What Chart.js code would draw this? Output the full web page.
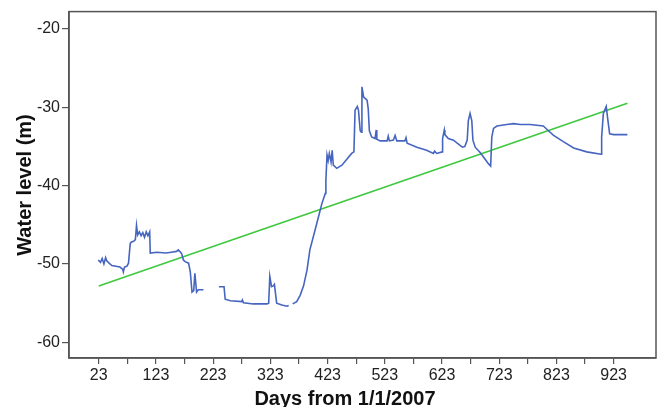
<!DOCTYPE html>
<html>
<head>
<meta charset="utf-8">
<script src="https://cdn.jsdelivr.net/npm/chart.js"></script>
<style>
  html, body { margin: 0; padding: 0; background: #fff; }
  canvas { display: block; }
</style>
</head>
<body>
<canvas id="chart" width="662" height="407"></canvas>
<script>
// water level record (null = gap in the record)
const days = [
  22, 26, 29, 32, 35, 37, 41, 46, 53, 60, 65, 66, 68, 72, 75, 78, 80, 84, 87, 89,
  91, 94, 97, 100, 103, 106, 109, 112, 113, 125, 140, 150, 159, 162, 166, 168, 171, 174, 180, 183,
  186, 189, 191, 194, 197, 206, 215,
  233, 242, 244, 253, 273, 274, 276, 293, 317, 320, 322, 325, 328, 330, 334, 343, 352, 355, 358,
  362, 369, 375, 381, 387, 392, 401, 407, 413, 419, 420, 422, 424, 426, 429, 431, 433, 439, 448, 457,
  465, 469, 471, 475, 477, 480, 482, 483, 486, 492, 494, 496, 500, 506, 508, 509, 515, 527, 529, 531,
  538, 541, 544, 558, 560, 562, 579, 596, 608, 610, 614, 623, 624, 627, 628, 634, 643, 655, 659, 663,
  667, 669, 672, 675, 677, 681, 690, 698, 704, 708, 710, 713, 719, 736, 748, 760, 777, 800, 809, 818,
  835, 853, 876, 901, 902, 905, 910, 913, 916, 923, 947
];
const levels = [
  -49.5, -49.8, -49.3, -50.0, -49.2, -49.6, -49.9, -50.2, -50.3, -50.4, -50.7, -51.0, -50.4, -50.3, -49.9, -47.4, -47.2, -47.1, -46.9, -45.1,
  -46.3, -45.9, -46.4, -46.0, -46.6, -45.9, -46.4, -45.9, -48.6, -48.5, -48.6, -48.5, -48.4, -48.2, -48.5, -48.7, -49.5, -49.7, -49.9, -51.0,
  -53.6, -53.4, -51.2, -53.6, -53.3, -53.3, null,
  -52.9, -52.9, -54.5, -54.7, -54.8, -54.6, -54.95, -55.1, -55.1, -55.0, -51.6, -52.9, -52.8, -52.6, -55.0, -55.25, -55.4, -55.3, null,
  -55.1, -54.8, -54.0, -52.8, -50.8, -48.2, -45.7, -44.0, -42.3, -41.0, -39.3, -36.1, -36.8, -35.9, -37.0, -35.5, -37.4, -37.8, -37.4, -36.6,
  -35.9, -35.7, -30.4, -29.9, -30.4, -33.0, -33.2, -27.4, -28.7, -29.1, -30.2, -33.0, -33.8, -34.0, -32.9, -34.1, -34.3, -34.3, -33.7, -34.3,
  -34.2, -33.6, -34.3, -34.3, -33.9, -34.6, -35.1, -35.5, -35.9, -35.6, -35.9, -35.7, -34.0, -32.9, -33.5, -34.0, -34.2, -34.9, -35.1, -35.0,
  -34.2, -31.7, -30.8, -31.7, -34.2, -35.1, -35.8, -36.6, -37.2, -37.5, -33.8, -32.7, -32.4, -32.2, -32.1, -32.2, -32.2, -32.4, -33.0, -33.6,
  -34.4, -35.2, -35.7, -36.0, -33.8, -30.8, -29.9, -31.7, -33.4, -33.5, -33.5
];

// linear trend
const trendDays = [23, 947];
const trendLevels = [-52.8, -29.5];

const xTicks = [23, 73, 123, 173, 223, 273, 323, 373, 423, 473, 523, 573, 623, 673, 723, 773, 823, 873, 923];
const yTicks = [-60, -50, -40, -30, -20];

const toPoints = (xs, ys) => xs.map((x, i) => ({ x: x, y: ys[i] }));

const axisColor = "#555";
const tickFont = { family: "Liberation Sans, Arial, sans-serif", size: 16 };

// frame round the plot area and the two axis titles
const framePlugin = {
  id: "frame",
  afterDraw(chart) {
    const { ctx, chartArea } = chart;
    ctx.save();
    ctx.strokeStyle = axisColor;
    ctx.lineWidth = 1.5;
    ctx.strokeRect(chartArea.left, chartArea.top,
      chartArea.right - chartArea.left, chartArea.bottom - chartArea.top);

    ctx.fillStyle = "#111";
    ctx.font = "bold 20px Liberation Sans, Arial, sans-serif";
    ctx.textAlign = "center";
    ctx.textBaseline = "alphabetic";
    ctx.fillText("Days from 1/1/2007", 345, 405);

    ctx.translate(31, 185);
    ctx.rotate(-Math.PI / 2);
    ctx.fillText("Water level (m)", 0, 0);
    ctx.restore();
  },
};

new Chart(document.getElementById("chart"), {
  type: "line",
  data: {
    datasets: [
      {
        label: "Water level",
        data: toPoints(days, levels),
        borderColor: "#4665bf",
        borderWidth: 1.6,
        pointRadius: 0,
        tension: 0,
        spanGaps: false,
      },
      {
        label: "Trend",
        data: toPoints(trendDays, trendLevels),
        borderColor: "#3ec83e",
        borderWidth: 1.6,
        pointRadius: 0,
        tension: 0,
      },
    ],
  },
  options: {
    responsive: false,
    animation: false,
    devicePixelRatio: 1,
    layout: { padding: { top: 11, right: 6, left: 0, bottom: 0 } },
    plugins: {
      legend: { display: false },
      tooltip: { enabled: false },
    },
    scales: {
      x: {
        type: "linear",
        min: -29,
        max: 997,
        afterBuildTicks: (scale) => {
          scale.ticks = xTicks.map((v) => ({ value: v }));
        },
        afterFit: (scale) => {
          scale.height = 49;
        },
        ticks: {
          autoSkip: false,
          maxRotation: 0,
          padding: 2,
          color: "#222",
          font: tickFont,
          callback: (v) => ((v - 23) % 100 === 0 ? String(v) : ""),
        },
        grid: {
          drawOnChartArea: false,
          tickLength: 6,
          color: axisColor,
          lineWidth: 1.2,
        },
        border: { color: axisColor, width: 1.5 },
      },
      y: {
        type: "linear",
        min: -62,
        max: -17.8,
        afterBuildTicks: (scale) => {
          scale.ticks = yTicks.map((v) => ({ value: v }));
        },
        afterFit: (scale) => {
          scale.width = 69;
        },
        ticks: {
          padding: 2,
          color: "#222",
          font: tickFont,
        },
        grid: {
          drawOnChartArea: false,
          tickLength: 7,
          color: axisColor,
          lineWidth: 1.2,
        },
        border: { color: axisColor, width: 1.5 },
      },
    },
  },
  plugins: [framePlugin],
});
</script>
</body>
</html>
